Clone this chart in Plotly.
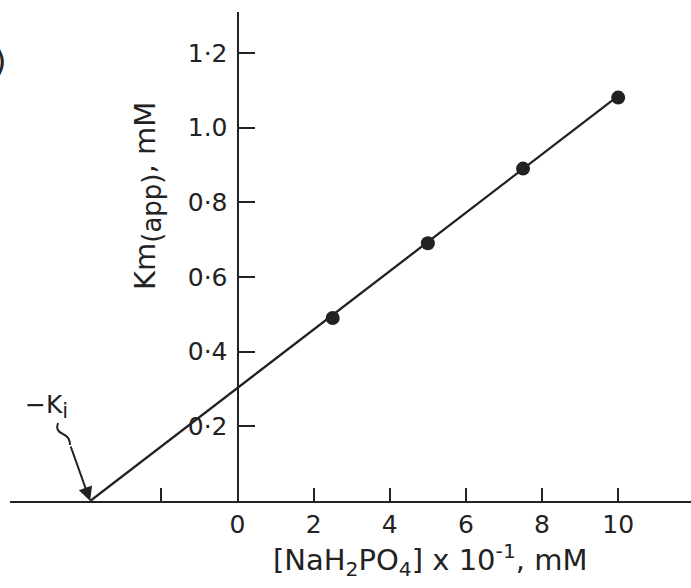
import plotly.graph_objects as go

# Apparent Km versus phosphate concentration
phosphate = [2.5, 5.0, 7.5, 10.0]          # [NaH2PO4] x 10^-1, mM
km_app = [0.49, 0.69, 0.89, 1.08]          # Km(app), mM

# Fitted straight line, extrapolated to the x-axis intercept (-Ki)
fit_x = [-3.87, 9.94]
fit_y = [0.0, 1.08]

x_tick_vals = [-2, 0, 2, 4, 6, 8, 10]
x_tick_text = ["", "0", "2", "4", "6", "8", "10"]
y_tick_vals = [0.2, 0.4, 0.6, 0.8, 1.0, 1.2]
y_tick_text = ["0·2", "0·4", "0·6", "0·8", "1.0", "1·2"]

INK = "#222222"
FONT = "DejaVu Sans"
W, H = 691, 588


def px(x, y):
    """Page pixel -> paper coordinates."""
    return x / W, 1 - y / H


def label(x, y, text, size, **kw):
    fig.add_annotation(
        x=px(x, 0)[0], y=px(0, y)[1], xref="paper", yref="paper",
        xanchor=kw.pop("xanchor", "center"), yanchor="middle",
        text=text, showarrow=False,
        font=dict(family=FONT, size=size, color=INK), **kw,
    )


fig = go.Figure()
fig.add_trace(go.Scatter(
    x=fit_x, y=fit_y, mode="lines",
    line=dict(color=INK, width=2.3), cliponaxis=False, showlegend=False,
))
fig.add_trace(go.Scatter(
    x=phosphate, y=km_app, mode="markers",
    marker=dict(color=INK, size=14), cliponaxis=False, showlegend=False,
))

# wavy tail of the -Ki pointer
pts = [(58, 423), (55, 431), (63, 434), (70, 437), (70, 445)]
p = [px(*q) for q in pts]
path = (f"M {p[0][0]},{p[0][1]} Q {p[1][0]},{p[1][1]} {p[2][0]},{p[2][1]} "
        f"Q {p[3][0]},{p[3][1]} {p[4][0]},{p[4][1]}")
fig.add_shape(type="path", path=path, xref="paper", yref="paper",
              line=dict(color=INK, width=2))

fig.add_annotation(
    x=fit_x[0], y=0, xref="x", yref="y", ax=-20, ay=-56,
    showarrow=True, arrowhead=2, arrowsize=1.4, arrowwidth=2,
    arrowcolor=INK, text="",
)
label(46, 406, "−K<sub><span style='font-size:21px'>i</span></sub>", 25)
label(8, 61, ")", 32, xanchor="right")

# axis titles
label(148, 196, "Km<sub><span style='font-size:26px'>(app)</span></sub>, mM",
      29, textangle=-90)
label(430, 560, "[NaH<sub>2</sub>PO<sub>4</sub>] x 10<sup>-1</sup>, mM", 29)

x0_px, xscale = 237.5, 38.07
y0_px, yscale = 501.0, 373.5
x_left_px, y_top_px = 10, 12

fig.update_layout(
    width=W, height=H,
    margin=dict(l=0, r=0, t=0, b=0),
    paper_bgcolor="white", plot_bgcolor="white",
    font=dict(family=FONT, size=25, color=INK),
    xaxis=dict(
        domain=[x_left_px / W, 1],
        range=[(x_left_px - x0_px) / xscale, (W - x0_px) / xscale],
        showgrid=False, zeroline=False,
        showline=True, linecolor=INK, linewidth=2,
        ticks="inside", ticklen=13, tickwidth=2, tickcolor=INK,
        tickvals=x_tick_vals, ticktext=x_tick_text,
        ticklabelstandoff=0,
    ),
    yaxis=dict(
        domain=[(H - y0_px) / H, (H - y_top_px) / H],
        range=[0, (y0_px - y_top_px) / yscale],
        anchor="free", position=x0_px / W,
        showgrid=False, zeroline=False,
        showline=True, linecolor=INK, linewidth=2,
        ticks="inside", ticklen=16, tickwidth=2, tickcolor=INK,
        tickvals=y_tick_vals, ticktext=y_tick_text,
        ticklabelstandoff=4,
    ),
)

fig.write_html("out.html")
